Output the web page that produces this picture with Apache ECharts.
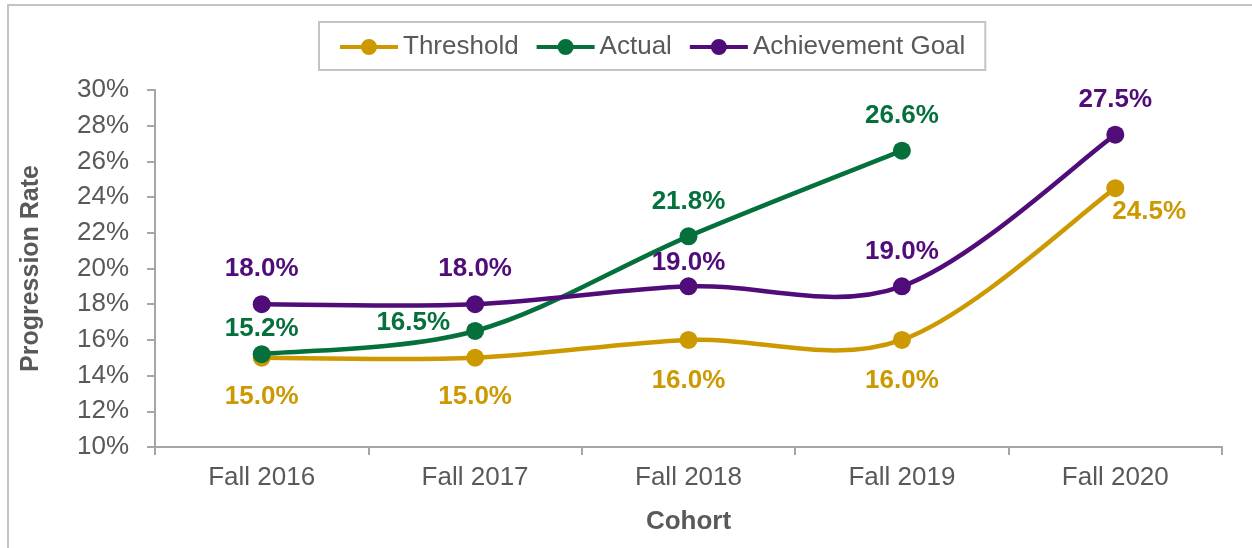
<!DOCTYPE html>
<html>
<head>
<meta charset="utf-8">
<script src="https://cdn.jsdelivr.net/npm/echarts@6/dist/echarts.min.js"></script>
<style>
  html, body { margin: 0; padding: 0; background: #fff; }
  #chart { width: 1252px; height: 548px; }
</style>
</head>
<body>
<div id="chart"></div>
<script>
// cohorts on the x axis
var cohorts = ['Fall 2016', 'Fall 2017', 'Fall 2018', 'Fall 2019', 'Fall 2020'];
// progression rates, percent
var threshold = [15.0, 15.0, 16.0, 16.0, 24.5];
var actual = [15.2, 16.5, 21.8, 26.6, null];
var goal = [18.0, 18.0, 19.0, 19.0, 27.5];
var yTicks = [10, 12, 14, 16, 18, 20, 22, 24, 26, 28, 30];

var FONT = 'Liberation Sans, Arial, sans-serif';
var GREY = '#595959';
var colors = { threshold: '#CC9900', actual: '#05703C', goal: '#500C78' };

// label tweaks per point (position only, values come from the arrays)
var thresholdLabels = [{ distance: 17 }, { distance: 17 }, { distance: 19 }, { distance: 19 },
    { position: 'right', distance: 0, offset: [-12, 24] }];
var actualLabels = [{ distance: 3 }, { position: 'left', distance: 16, offset: [0, -8] }, {}, {}, {}];
var goalLabels = [{}, {}, { distance: 2 }, {}, {}];

// legend icon: short bar with a dot, like the excel marker line
var legendIcon = 'path://M0,7 L58,7 L58,11 L0,11 Z M29,1 A8,8 0 1,1 28.99,1 Z';

function pack(values, tweaks) {
    return values.map(function (v, i) {
        var d = { value: v };
        if (tweaks[i] && Object.keys(tweaks[i]).length) d.label = tweaks[i];
        return d;
    });
}

// marker + label series, line itself hidden (drawn by curveSeries)
function makeSeries(name, values, color, pos, tweaks) {
    return {
        name: name,
        type: 'line',
        data: pack(values, tweaks),
        symbol: 'circle',
        symbolSize: 18,
        z: 5,
        lineStyle: { width: 0, opacity: 0 },
        itemStyle: { color: color },
        label: {
            show: true,
            position: pos,
            distance: 13,
            color: color,
            fontFamily: FONT,
            fontSize: 26,
            fontWeight: 'bold',
            formatter: function (p) { return p.value.toFixed(1) + '%'; }
        },
        emphasis: { disabled: true }
    };
}

// excel style smoothed line: cubic bezier, control points from neighbours
function curveSeries(name, values, color) {
    var pts = [];
    values.forEach(function (v, i) { if (v != null) pts.push([i, v]); });
    return {
        name: name + ' line',
        type: 'custom',
        silent: true,
        z: 3,
        data: pts,
        encode: { x: 0, y: 1 },
        renderItem: function (params, api) {
            if (params.dataIndex !== 0) return null;
            var p = pts.map(function (d) { return api.coord(d); });
            var kids = [];
            var t = 1 / 6;
            for (var i = 0; i < p.length - 1; i++) {
                var a = p[i - 1] || p[i], b = p[i], c = p[i + 1], d = p[i + 2] || p[i + 1];
                kids.push({
                    type: 'bezierCurve',
                    shape: {
                        x1: b[0], y1: b[1], x2: c[0], y2: c[1],
                        cpx1: b[0] + (c[0] - a[0]) * t, cpy1: b[1] + (c[1] - a[1]) * t,
                        cpx2: c[0] - (d[0] - b[0]) * t, cpy2: c[1] - (d[1] - b[1]) * t
                    },
                    style: { stroke: color, lineWidth: 4.5, fill: 'none' }
                });
            }
            return { type: 'group', children: kids };
        }
    };
}

var chart = echarts.init(document.getElementById('chart'));
chart.setOption({
    animation: false,
    backgroundColor: '#fff',
    textStyle: { fontFamily: FONT },
    graphic: [{
        type: 'rect',
        shape: { x: 8, y: 5, width: 1270, height: 570 },
        style: { fill: 'none', stroke: '#c4c4c4', lineWidth: 2 },
        silent: true,
        z: -1
    }],
    legend: {
        left: 319,
        top: 22,
        padding: [12, 20, 10, 21],
        borderColor: '#c4c4c4',
        borderWidth: 2,
        itemWidth: 58,
        itemHeight: 18,
        itemGap: 18,
        textStyle: { color: GREY, fontSize: 26, fontFamily: FONT },
        data: [
            { name: 'Threshold', icon: legendIcon },
            { name: 'Actual', icon: legendIcon },
            { name: 'Achievement Goal', icon: legendIcon }
        ]
    },
    grid: { left: 155, right: 30, top: 90, bottom: 101, containLabel: false },
    xAxis: {
        type: 'category',
        data: cohorts,
        boundaryGap: true,
        name: 'Cohort',
        nameLocation: 'middle',
        nameGap: 62,
        nameTextStyle: { color: GREY, fontSize: 26, fontWeight: 'bold', fontFamily: FONT },
        axisLine: { lineStyle: { color: '#a6a6a6', width: 2 } },
        axisTick: { show: true, length: 8, lineStyle: { color: '#a6a6a6', width: 2 } },
        axisLabel: { color: GREY, fontSize: 26, fontFamily: FONT, margin: 18 },
        splitLine: { show: false }
    },
    yAxis: {
        type: 'value',
        min: yTicks[0],
        max: yTicks[yTicks.length - 1],
        interval: yTicks[1] - yTicks[0],
        name: 'Progression Rate',
        nameLocation: 'middle',
        nameGap: 111,
        nameRotate: 90,
        nameTextStyle: { color: GREY, fontSize: 25, fontWeight: 'bold', fontFamily: FONT },
        axisLine: { show: true, lineStyle: { color: '#a6a6a6', width: 2 } },
        axisTick: { show: true, length: 8, lineStyle: { color: '#a6a6a6', width: 2 } },
        axisLabel: { color: GREY, fontSize: 26, fontFamily: FONT, margin: 26, formatter: '{value}%' },
        splitLine: { show: false }
    },
    series: [
        curveSeries('Threshold', threshold, colors.threshold),
        curveSeries('Actual', actual, colors.actual),
        curveSeries('Achievement Goal', goal, colors.goal),
        makeSeries('Threshold', threshold, colors.threshold, 'bottom', thresholdLabels),
        makeSeries('Actual', actual, colors.actual, 'top', actualLabels),
        makeSeries('Achievement Goal', goal, colors.goal, 'top', goalLabels)
    ]
});
</script>
</body>
</html>
